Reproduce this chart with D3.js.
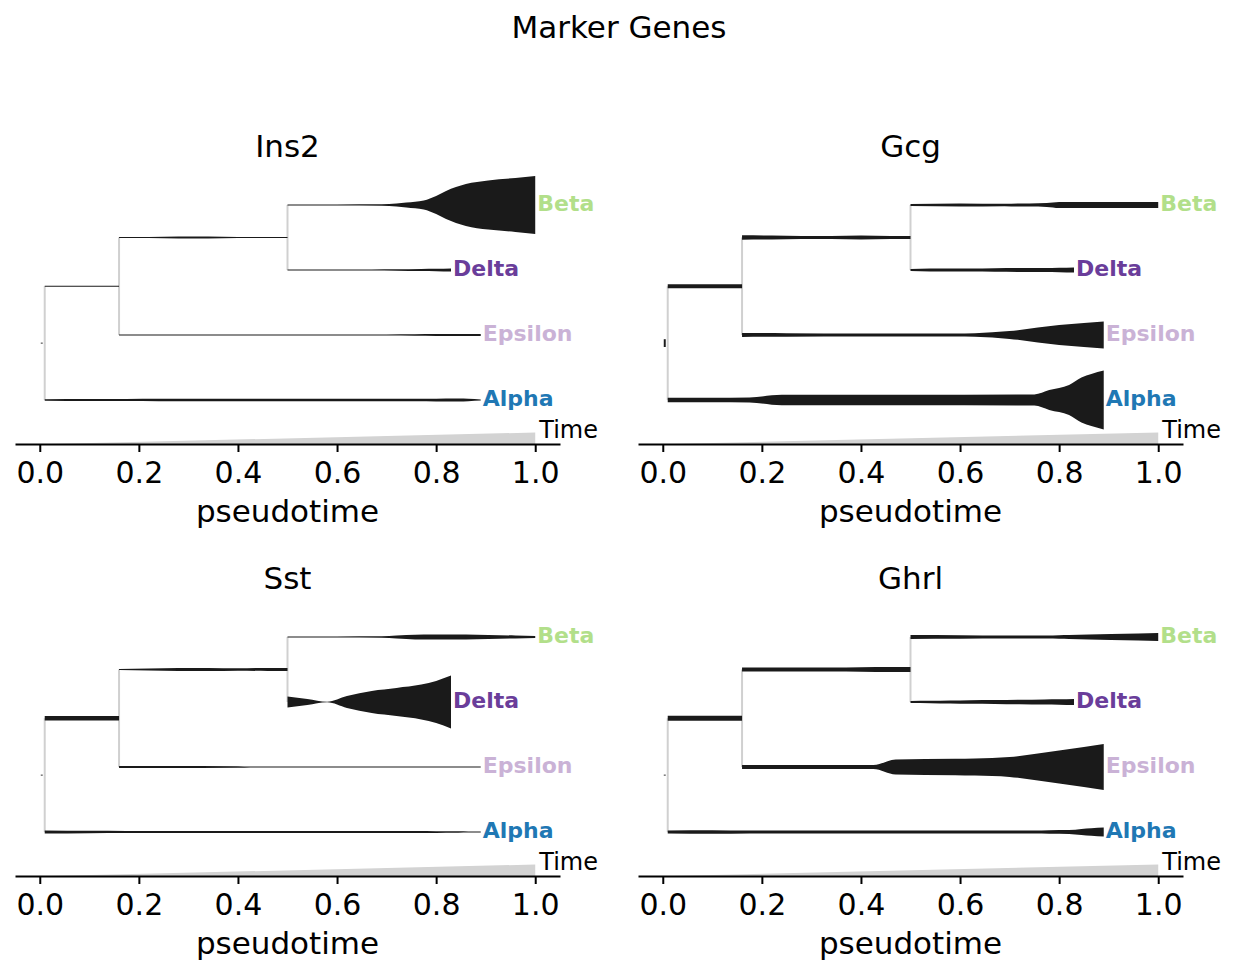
<!DOCTYPE html>
<meta charset="utf-8">
<script src="https://cdn.jsdelivr.net/npm/d3@7"></script>
<style>
  body { margin: 0; background: #fff; }
  text { font-family: "DejaVu Sans", sans-serif; }
</style>
<div id="chart"></div>
<script>
// tree layout (pseudotime start / end and dendrogram row of each segment)
var segNames = ["root", "s1", "s2", "Beta", "Delta", "Epsilon", "Alpha"];
var segFrom  = [0.002, 0.01, 0.16, 0.5, 0.5, 0.16, 0.01];
var segTo    = [0.006, 0.16, 0.5, 1.0, 0.83, 0.89, 0.89];
var segRow   = [0.875, 1.75, 2.5, 3, 2, 1, 0];

// branching nodes: pseudotime and the two rows they join
var nodeT    = [0.01, 0.16, 0.5];
var nodeLow  = [0, 1, 2];
var nodeHigh = [1.75, 2.5, 3];

var leafNames  = ["Beta", "Delta", "Epsilon", "Alpha"];
var leafColors = ["#b2df8a", "#6a3d9a", "#cab2d6", "#1f78b4"];

// pseudotime sample points along each segment
var segT = [
  [0.002, 0.006],
  [0.01, 0.08, 0.16],
  [0.16, 0.22, 0.28, 0.34, 0.40, 0.46, 0.5],
  [0.5, 0.6, 0.69, 0.72, 0.74, 0.775, 0.80, 0.82, 0.86, 0.905, 0.96, 1.0],
  [0.5, 0.54, 0.58, 0.62, 0.67, 0.72, 0.77, 0.80, 0.83],
  [0.16, 0.25, 0.40, 0.425, 0.47, 0.59, 0.63, 0.70, 0.757, 0.80, 0.85, 0.89],
  [0.01, 0.10, 0.175, 0.24, 0.50, 0.75, 0.78, 0.82, 0.845, 0.865, 0.89]
];

// expression along each segment, one array per gene (same order as segNames)
var ins2 = [
  [0.015, 0.015],
  [0.02, 0.02, 0.02],
  [0.02, 0.02, 0.03, 0.03, 0.02, 0.02, 0.02],
  [0.02, 0.02, 0.025, 0.05, 0.08, 0.15, 0.30, 0.47, 0.70, 0.82, 0.90, 0.97],
  [0.02, 0.02, 0.02, 0.02, 0.02, 0.025, 0.035, 0.04, 0.05],
  [0.02, 0.02, 0.02, 0.02, 0.02, 0.02, 0.02, 0.02, 0.025, 0.03, 0.035, 0.03],
  [0.025, 0.035, 0.035, 0.04, 0.04, 0.04, 0.04, 0.05, 0.05, 0.04, 0.02]
];
var gcg = [
  [0.13, 0.13],
  [0.07, 0.07, 0.07],
  [0.075, 0.065, 0.05, 0.05, 0.065, 0.05, 0.05],
  [0.035, 0.05, 0.04, 0.05, 0.05, 0.065, 0.1, 0.1, 0.1, 0.1, 0.1, 0.1],
  [0.035, 0.05, 0.05, 0.05, 0.06, 0.065, 0.065, 0.075, 0.085],
  [0.065, 0.06, 0.05, 0.05, 0.05, 0.05, 0.06, 0.13, 0.25, 0.33, 0.40, 0.45],
  [0.075, 0.075, 0.085, 0.175, 0.175, 0.185, 0.33, 0.5, 0.75, 0.87, 0.98]
];
var sst = [
  [0.015, 0.015],
  [0.075, 0.075, 0.075],
  [0.02, 0.035, 0.05, 0.05, 0.04, 0.05, 0.05],
  [0.02, 0.02, 0.025, 0.05, 0.065, 0.085, 0.085, 0.085, 0.085, 0.065, 0.05, 0.035],
  [0.18, 0.1, 0.01, 0.2, 0.37, 0.47, 0.58, 0.7, 0.88],
  [0.035, 0.035, 0.025, 0.015, 0.015, 0.015, 0.015, 0.015, 0.015, 0.015, 0.015, 0.015],
  [0.05, 0.04, 0.035, 0.035, 0.035, 0.035, 0.035, 0.025, 0.025, 0.02, 0.015]
];
var ghrl = [
  [0.015, 0.015],
  [0.085, 0.085, 0.085],
  [0.065, 0.065, 0.065, 0.065, 0.075, 0.085, 0.085],
  [0.065, 0.06, 0.05, 0.05, 0.05, 0.05, 0.06, 0.065, 0.085, 0.1, 0.115, 0.135],
  [0.035, 0.04, 0.05, 0.06, 0.065, 0.075, 0.085, 0.09, 0.1],
  [0.065, 0.065, 0.065, 0.065, 0.25, 0.275, 0.285, 0.33, 0.45, 0.55, 0.67, 0.77],
  [0.05, 0.06, 0.05, 0.05, 0.05, 0.05, 0.06, 0.065, 0.1, 0.125, 0.15]
];

var genes = ["Ins2", "Gcg", "Sst", "Ghrl"];
var geneData = [ins2, gcg, sst, ghrl];
var ticks = [0, 0.2, 0.4, 0.6, 0.8, 1.0];

var W = 1238, H = 975;
var svg = d3.select("#chart").append("svg")
  .attr("width", W).attr("height", H);

svg.append("text")
  .attr("x", 619).attr("y", 38)
  .attr("text-anchor", "middle")
  .attr("font-size", 31)
  .text("Marker Genes");

// panel boxes: left, right, top, bottom
var panels = [
  {l: 15, r: 560, t: 165, b: 444},
  {l: 638, r: 1183, t: 165, b: 444},
  {l: 15, r: 560, t: 597, b: 876},
  {l: 638, r: 1183, t: 597, b: 876}
];

var w = d3.scaleLinear().domain([0, 1]).range([0, 60]);

genes.forEach(function(gene, gi) {
  var p = panels[gi];
  var g = svg.append("g");

  var x = d3.scaleLinear().domain([-0.05, 1.05]).range([p.l, p.r]);
  var y = d3.scaleLinear().domain([-0.677, 3.615]).range([p.b, p.t]);

  // time wedge
  g.append("path")
    .attr("d", d3.line()([[x(0), y(-0.68)], [x(1), y(-0.68)], [x(1), y(-0.5)]]) + "Z")
    .attr("fill", "#d3d3d3");

  // grey connectors
  nodeT.forEach(function(t, i) {
    g.append("line")
      .attr("x1", x(t)).attr("x2", x(t))
      .attr("y1", y(nodeLow[i])).attr("y2", y(nodeHigh[i]))
      .attr("stroke", "#d0d0d0")
      .attr("stroke-width", 2);
  });

  // expression ribbons
  var vals = geneData[gi];
  segNames.forEach(function(s, si) {
    var pts = segT[si].map(function(t, k) { return [t, vals[si][k]]; });
    var area = d3.area()
      .curve(d3.curveMonotoneX)
      .x(function(d) { return x(d[0]); })
      .y0(function(d) { return y(segRow[si]) - Math.max(w(d[1]), 0.6) / 2; })
      .y1(function(d) { return y(segRow[si]) + Math.max(w(d[1]), 0.6) / 2; });
    g.append("path")
      .attr("d", area(pts))
      .attr("fill", "#1a1a1a");
  });

  // leaf labels
  leafNames.forEach(function(name) {
    var si = segNames.indexOf(name);
    g.append("text")
      .attr("x", x(segTo[si]) + 2)
      .attr("y", y(segRow[si]))
      .attr("dy", "0.28em")
      .attr("font-size", 22)
      .attr("font-weight", "bold")
      .attr("fill", leafColors[leafNames.indexOf(name)])
      .text(name);
  });

  g.append("text")
    .attr("x", x(1) + 4)
    .attr("y", p.b - 6)
    .attr("font-size", 24)
    .text("Time");

  var ax = g.append("g")
    .attr("transform", "translate(0," + p.b + ")")
    .call(d3.axisBottom(x).tickValues(ticks).tickFormat(d3.format(".1f"))
      .tickSize(8).tickSizeOuter(0).tickPadding(10));
  ax.select(".domain").attr("stroke", "#000").attr("stroke-width", 2);
  ax.selectAll(".tick line").attr("stroke", "#000").attr("stroke-width", 2);
  ax.selectAll(".tick text")
    .attr("font-family", "DejaVu Sans")
    .attr("font-size", 30)
    .attr("fill", "#000");

  g.append("text")
    .attr("x", (p.l + p.r) / 2)
    .attr("y", p.b + 78)
    .attr("text-anchor", "middle")
    .attr("font-size", 31)
    .text("pseudotime");

  g.append("text")
    .attr("x", (p.l + p.r) / 2)
    .attr("y", p.t - 8)
    .attr("text-anchor", "middle")
    .attr("font-size", 31)
    .text(gene);
});
</script>
